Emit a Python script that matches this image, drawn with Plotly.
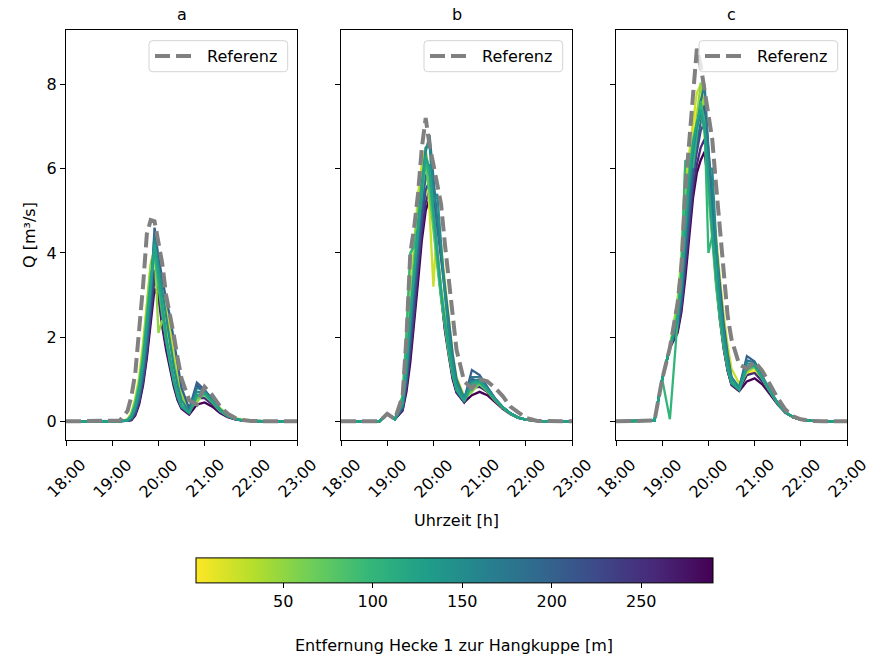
import plotly.graph_objects as go
from plotly.colors import sample_colorscale

# Zeitschritte der Abflussganglinien (gemeinsam für alle Szenarien)
zeit = ["18:00", "18:50", "19:00", "19:10", "19:20", "19:25", "19:30", "19:35", "19:40", "19:45",
        "19:50", "19:55", "20:00", "20:05", "20:10", "20:15", "20:20", "20:25", "20:30", "20:40",
        "20:50", "21:00", "21:10", "21:20", "21:30", "21:40", "21:50", "22:00", "22:15", "22:30",
        "23:00"]

# Entfernung Hecke 1 zur Hangkuppe [m] je Variante
entfernung = [1.2, 25, 50, 75, 100, 125, 150, 175, 200, 225, 255, 290]
farb_min, farb_max = 1.2, 290

# Zeichenreihenfolge der Varianten (mittlere Entfernungen zuletzt)
reihenfolge = [11, 0, 10, 1, 9, 2, 8, 3, 7, 4, 6, 5]

panel_titel = ["a", "b", "c"]
stunden = ["18:00", "19:00", "20:00", "21:00", "22:00", "23:00"]
farbskala_ticks = [50, 100, 150, 200, 250]

# Referenzganglinien Q [m³/s]
ref_a = [0, 0, 0, 0.02, 0.25, 0.6, 1.15, 2.1, 3.2, 4.45, 4.78, 4.75, 4.3, 3.75, 3.0, 2.55, 2.05,
         1.5, 1.02, 0.5, 0.4, 0.82, 0.62, 0.36, 0.18, 0.08, 0.03, 0.01, 0, 0, 0]
ref_b = [0, 0, 0.18, 0.05, 0.6, 2.0, 4.0, 4.6, 5.4, 6.5, 7.2, 6.55, 6.1, 5.6, 5.15, 4.2, 3.3,
         2.4, 1.7, 0.95, 0.78, 1.0, 0.95, 0.8, 0.6, 0.35, 0.2, 0.08, 0.01, 0, 0]
ref_c = [0, 0.02, 1.0, 1.75, 2.8, 3.7, 5.5, 6.6, 7.5, 8.85, 8.45, 7.85, 7.3, 6.7, 5.6, 4.5, 3.4,
         2.5, 1.95, 1.35, 1.25, 1.42, 1.2, 0.88, 0.55, 0.28, 0.12, 0.05, 0.01, 0, 0]

# Varianten Szenario a (eine Zeile je Entfernung)
q_a = [
    [0, 0, 0, 0, 0.05, 0.2, 0.55, 1.05, 1.85, 2.8, 3.7, 3.95, 3.35, 2.8, 2.3, 1.8, 1.3, 0.85, 0.52, 0.3, 0.5, 0.68, 0.5, 0.28, 0.14, 0.07, 0.03, 0.01, 0, 0, 0],
    [0, 0, 0, 0, 0.05, 0.2, 0.52, 1.0, 1.8, 2.75, 3.75, 4.1, 3.8, 3.3, 2.7, 2.1, 1.6, 1.1, 0.7, 0.32, 0.48, 0.7, 0.52, 0.3, 0.15, 0.07, 0.03, 0.01, 0, 0, 0],
    [0, 0, 0, 0, 0.04, 0.18, 0.5, 0.95, 1.7, 2.7, 3.7, 4.15, 2.1, 2.4, 2.3, 1.9, 1.4, 0.95, 0.6, 0.3, 0.45, 0.72, 0.55, 0.32, 0.16, 0.08, 0.03, 0.01, 0, 0, 0],
    [0, 0, 0, 0, 0.04, 0.16, 0.45, 0.9, 1.6, 2.55, 3.5, 3.9, 3.2, 2.55, 1.95, 1.45, 1.0, 0.65, 0.4, 0.22, 0.55, 0.62, 0.45, 0.25, 0.12, 0.06, 0.02, 0.01, 0, 0, 0],
    [0, 0, 0, 0, 0.03, 0.14, 0.4, 0.85, 1.5, 2.4, 3.4, 4.0, 3.3, 2.55, 1.95, 1.4, 0.95, 0.6, 0.36, 0.2, 0.6, 0.65, 0.47, 0.26, 0.13, 0.06, 0.02, 0.01, 0, 0, 0],
    [0, 0, 0, 0, 0.03, 0.12, 0.36, 0.78, 1.4, 2.3, 3.3, 4.2, 3.5, 2.7, 2.05, 1.5, 1.0, 0.62, 0.36, 0.2, 0.62, 0.68, 0.48, 0.27, 0.13, 0.06, 0.02, 0.01, 0, 0, 0],
    [0, 0, 0, 0, 0.02, 0.1, 0.32, 0.7, 1.3, 2.15, 3.15, 4.3, 3.7, 3.0, 2.4, 1.85, 1.3, 0.85, 0.5, 0.24, 0.7, 0.7, 0.5, 0.28, 0.14, 0.06, 0.02, 0.01, 0, 0, 0],
    [0, 0, 0, 0, 0.02, 0.08, 0.28, 0.62, 1.2, 2.0, 3.0, 4.45, 3.6, 2.7, 2.0, 1.5, 1.0, 0.62, 0.36, 0.25, 0.8, 0.72, 0.5, 0.28, 0.14, 0.06, 0.02, 0.01, 0, 0, 0],
    [0, 0, 0, 0, 0.01, 0.07, 0.25, 0.56, 1.1, 1.85, 2.9, 4.6, 3.9, 3.4, 2.9, 2.5, 1.9, 1.3, 0.8, 0.3, 0.92, 0.75, 0.5, 0.28, 0.14, 0.06, 0.02, 0.01, 0, 0, 0],
    [0, 0, 0, 0, 0.01, 0.05, 0.2, 0.5, 1.0, 1.7, 2.7, 3.6, 3.3, 2.5, 1.9, 1.4, 0.92, 0.56, 0.33, 0.22, 0.85, 0.7, 0.48, 0.26, 0.13, 0.06, 0.02, 0.01, 0, 0, 0],
    [0, 0, 0, 0, 0.01, 0.04, 0.17, 0.45, 0.92, 1.6, 2.5, 3.4, 3.1, 2.35, 1.8, 1.3, 0.88, 0.52, 0.31, 0.18, 0.55, 0.55, 0.4, 0.22, 0.11, 0.05, 0.02, 0.01, 0, 0, 0],
    [0, 0, 0, 0, 0.01, 0.03, 0.14, 0.4, 0.85, 1.5, 2.4, 3.15, 2.95, 2.25, 1.7, 1.25, 0.82, 0.5, 0.3, 0.16, 0.4, 0.45, 0.35, 0.2, 0.1, 0.05, 0.02, 0.01, 0, 0, 0],
]

# Varianten Szenario b
q_b = [
    [0, 0, 0.18, 0.05, 0.55, 1.6, 3.0, 4.2, 5.2, 5.9, 6.3, 5.5, 4.6, 3.8, 3.1, 2.4, 1.75, 1.2, 0.8, 0.55, 0.75, 0.85, 0.7, 0.5, 0.32, 0.18, 0.09, 0.04, 0.01, 0, 0],
    [0, 0, 0.18, 0.05, 0.5, 1.5, 2.9, 4.2, 5.4, 6.1, 6.5, 5.0, 3.2, 4.8, 4.2, 3.3, 2.4, 1.6, 1.05, 0.6, 0.8, 0.9, 0.75, 0.52, 0.33, 0.19, 0.09, 0.04, 0.01, 0, 0],
    [0, 0, 0.18, 0.05, 0.6, 2.0, 3.9, 4.3, 5.0, 5.8, 6.4, 5.9, 4.9, 4.0, 3.2, 2.5, 1.85, 1.3, 0.85, 0.55, 0.7, 0.9, 0.75, 0.52, 0.33, 0.19, 0.09, 0.04, 0.01, 0, 0],
    [0, 0, 0.18, 0.05, 0.45, 1.4, 2.7, 3.9, 5.0, 5.7, 6.1, 5.4, 4.5, 3.7, 2.9, 2.2, 1.6, 1.1, 0.75, 0.5, 0.78, 0.88, 0.72, 0.5, 0.32, 0.18, 0.09, 0.04, 0.01, 0, 0],
    [0, 0, 0.18, 0.05, 0.6, 2.1, 4.0, 4.15, 4.6, 5.4, 6.2, 5.8, 4.8, 3.9, 3.0, 2.3, 1.7, 1.15, 0.78, 0.5, 0.85, 0.92, 0.75, 0.52, 0.33, 0.19, 0.09, 0.04, 0.01, 0, 0],
    [0, 0, 0.18, 0.05, 0.42, 1.3, 2.5, 3.6, 4.7, 5.6, 6.3, 6.0, 5.0, 4.0, 3.1, 2.35, 1.7, 1.15, 0.75, 0.48, 0.9, 0.95, 0.75, 0.52, 0.33, 0.19, 0.09, 0.04, 0.01, 0, 0],
    [0, 0, 0.18, 0.05, 0.4, 1.2, 2.4, 3.5, 4.6, 5.6, 6.5, 6.6, 5.2, 5.4, 4.2, 3.0, 2.1, 1.4, 0.9, 0.55, 0.95, 1.0, 0.78, 0.53, 0.33, 0.19, 0.09, 0.04, 0.01, 0, 0],
    [0, 0, 0.18, 0.05, 0.38, 1.1, 2.2, 3.3, 4.4, 5.4, 6.4, 6.8, 5.8, 4.8, 4.0, 3.2, 2.4, 1.6, 1.0, 0.55, 1.05, 1.05, 0.8, 0.54, 0.34, 0.19, 0.09, 0.04, 0.01, 0, 0],
    [0, 0, 0.18, 0.05, 0.35, 1.0, 2.0, 3.1, 4.2, 5.1, 5.8, 6.1, 5.4, 4.6, 3.8, 3.0, 2.2, 1.5, 0.95, 0.52, 1.22, 1.1, 0.82, 0.55, 0.34, 0.19, 0.09, 0.04, 0.01, 0, 0],
    [0, 0, 0.18, 0.05, 0.3, 0.9, 1.8, 2.8, 3.9, 4.8, 5.5, 5.7, 5.0, 4.0, 3.1, 2.3, 1.65, 1.1, 0.72, 0.46, 1.0, 0.95, 0.75, 0.52, 0.33, 0.19, 0.09, 0.04, 0.01, 0, 0],
    [0, 0, 0.18, 0.05, 0.28, 0.8, 1.6, 2.5, 3.6, 4.5, 5.2, 5.5, 4.9, 3.9, 3.0, 2.2, 1.6, 1.05, 0.7, 0.45, 0.8, 0.82, 0.7, 0.5, 0.32, 0.18, 0.09, 0.04, 0.01, 0, 0],
    [0, 0, 0.18, 0.05, 0.25, 0.7, 1.4, 2.3, 3.3, 4.3, 5.0, 5.3, 4.8, 3.8, 2.9, 2.15, 1.55, 1.0, 0.68, 0.45, 0.62, 0.7, 0.62, 0.46, 0.3, 0.17, 0.08, 0.04, 0.01, 0, 0],
]

# Varianten Szenario c
q_c = [
    [0, 0.02, 1.0, 1.75, 2.7, 3.6, 5.2, 6.2, 6.8, 7.4, 7.7, 6.8, 5.6, 4.4, 3.4, 2.5, 1.8, 1.3, 0.95, 0.8, 1.1, 1.2, 0.98, 0.7, 0.42, 0.22, 0.1, 0.04, 0.01, 0, 0],
    [0, 0.02, 1.0, 1.75, 2.8, 3.8, 5.6, 6.4, 7.1, 7.8, 8.0, 7.0, 5.8, 5.2, 4.4, 3.4, 2.5, 1.8, 1.25, 0.9, 1.15, 1.28, 1.02, 0.72, 0.43, 0.22, 0.1, 0.04, 0.01, 0, 0],
    [0, 0.02, 1.0, 1.75, 2.9, 3.9, 6.1, 6.3, 6.1, 7.2, 8.05, 7.4, 6.0, 4.6, 3.5, 2.6, 1.9, 1.35, 0.98, 0.82, 1.2, 1.3, 1.02, 0.72, 0.43, 0.22, 0.1, 0.04, 0.01, 0, 0],
    [0, 0.02, 1.0, 1.75, 2.6, 3.5, 5.0, 6.0, 6.7, 7.1, 7.3, 6.9, 5.4, 4.2, 3.2, 2.4, 1.75, 1.25, 0.92, 0.78, 1.22, 1.3, 1.02, 0.72, 0.43, 0.22, 0.1, 0.04, 0.01, 0, 0],
    [0, 0.02, 1.0, 0.05, 2.4, 3.6, 6.2, 6.1, 6.05, 6.8, 7.6, 7.1, 4.0, 4.4, 3.6, 2.7, 1.95, 1.35, 0.95, 0.75, 1.25, 1.32, 1.02, 0.72, 0.43, 0.22, 0.1, 0.04, 0.01, 0, 0],
    [0, 0.02, 1.0, 1.75, 2.5, 3.3, 4.7, 5.8, 6.6, 7.1, 7.4, 7.0, 5.7, 4.5, 3.4, 2.5, 1.8, 1.25, 0.9, 0.75, 1.3, 1.33, 1.03, 0.72, 0.43, 0.22, 0.1, 0.04, 0.01, 0, 0],
    [0, 0.02, 1.0, 1.75, 2.45, 3.2, 4.5, 5.6, 6.4, 7.0, 7.3, 7.0, 6.0, 6.0, 4.3, 2.9, 2.1, 1.5, 1.05, 0.8, 1.38, 1.35, 1.04, 0.73, 0.43, 0.22, 0.1, 0.04, 0.01, 0, 0],
    [0, 0.02, 1.0, 1.75, 2.4, 3.1, 4.3, 5.4, 6.3, 7.0, 7.6, 8.0, 6.4, 5.0, 3.7, 2.7, 1.95, 1.4, 1.0, 0.8, 1.45, 1.4, 1.05, 0.73, 0.43, 0.22, 0.1, 0.04, 0.01, 0, 0],
    [0, 0.02, 1.0, 1.75, 2.3, 2.9, 4.0, 5.1, 6.0, 6.6, 7.1, 7.5, 6.5, 5.4, 4.2, 3.2, 2.3, 1.6, 1.05, 0.8, 1.55, 1.42, 1.06, 0.73, 0.43, 0.22, 0.1, 0.04, 0.01, 0, 0],
    [0, 0.02, 1.0, 1.75, 2.2, 2.8, 3.8, 4.9, 5.8, 6.4, 6.9, 7.1, 6.0, 4.7, 3.5, 2.5, 1.8, 1.25, 0.9, 0.75, 1.3, 1.3, 1.02, 0.72, 0.43, 0.22, 0.1, 0.04, 0.01, 0, 0],
    [0, 0.02, 1.0, 1.75, 2.15, 2.7, 3.6, 4.6, 5.5, 6.1, 6.5, 6.7, 5.8, 4.6, 3.4, 2.45, 1.75, 1.2, 0.88, 0.74, 1.1, 1.15, 0.95, 0.68, 0.41, 0.21, 0.1, 0.04, 0.01, 0, 0],
    [0, 0.02, 1.0, 1.75, 2.1, 2.6, 3.4, 4.4, 5.3, 5.9, 6.2, 6.4, 5.6, 4.5, 3.3, 2.4, 1.7, 1.2, 0.86, 0.72, 0.95, 1.02, 0.88, 0.64, 0.4, 0.2, 0.1, 0.04, 0.01, 0, 0],
]

for name, reihe in [("ref_a", ref_a), ("ref_b", ref_b), ("ref_c", ref_c)] + \
        [(f"q_{p}[{i}]", r) for p, q in zip("abc", (q_a, q_b, q_c)) for i, r in enumerate(q)]:
    if len(reihe) != len(zeit):
        raise ValueError(f"{name}: {len(reihe)} Werte statt {len(zeit)}")

TAG = "2000-01-01 "
x_zeit = [TAG + t for t in zeit]

W, H = 870, 657
FONT = "DejaVu Sans"
FS = 16
GRAU = "#808080"


def px(x):
    return x / W


def py(y):
    return 1 - y / H


def farbe(d):
    anteil = (d - farb_min) / (farb_max - farb_min)
    return sample_colorscale("Viridis", [1 - anteil])[0]


panel_links = [66, 341, 616]
panel_breite = 231
y_oben, y_unten = 30, 440
y_bereich = [-0.4425, 9.2925]

fig = go.Figure()

referenzen = [ref_a, ref_b, ref_c]
varianten = [q_a, q_b, q_c]

for k in range(3):
    xa = "x" if k == 0 else f"x{k + 1}"
    ya = "y" if k == 0 else f"y{k + 1}"
    for i in reihenfolge:
        fig.add_trace(go.Scatter(
            x=x_zeit, y=varianten[k][i], mode="lines", xaxis=xa, yaxis=ya,
            line=dict(color=farbe(entfernung[i]), width=2.3), showlegend=False,
            hoverinfo="skip"))
    fig.add_trace(go.Scatter(
        x=x_zeit, y=referenzen[k], mode="lines", xaxis=xa, yaxis=ya, name="Referenz",
        line=dict(color=GRAU, width=4, dash="15px,6px"), showlegend=False))

# Farbskala (Entfernung)
fig.add_trace(go.Scatter(
    x=[None], y=[None], mode="markers", showlegend=False, hoverinfo="skip",
    marker=dict(
        color=[farb_min, farb_max], colorscale="Viridis", reversescale=True,
        cmin=farb_min, cmax=farb_max, showscale=True,
        colorbar=dict(
            orientation="h", x=px((196 + 712.7) / 2), xanchor="center",
            y=py(585), yanchor="middle", len=516.7 / W, lenmode="fraction",
            thickness=25, thicknessmode="pixels", xpad=0, ypad=0,
            outlinewidth=1, outlinecolor="black",
            tickvals=farbskala_ticks, ticks="outside", ticklen=5, tickwidth=1,
            tickcolor="black", tickfont=dict(family=FONT, size=FS, color="black"),
        ),
    ),
))

layout = dict(
    width=W, height=H, margin=dict(l=0, r=0, t=0, b=0),
    paper_bgcolor="white", plot_bgcolor="white",
    font=dict(family=FONT, size=FS, color="black"),
    showlegend=False,
)

annotationen = []
formen = []
for k in range(3):
    links = panel_links[k]
    rechts = links + panel_breite
    sx = "xaxis" if k == 0 else f"xaxis{k + 1}"
    sy = "yaxis" if k == 0 else f"yaxis{k + 1}"
    xref = "x" if k == 0 else f"x{k + 1}"
    layout[sx] = dict(
        domain=[px(links), px(rechts)], anchor="y" if k == 0 else f"y{k + 1}",
        type="date", range=[TAG + "18:00", TAG + "23:00"],
        tickvals=[TAG + s for s in stunden], showticklabels=False,
        ticks="outside", ticklen=5, tickwidth=1, tickcolor="black",
        showline=True, linecolor="black", linewidth=1, mirror=True,
        showgrid=False, zeroline=False, fixedrange=True,
    )
    layout[sy] = dict(
        domain=[py(y_unten), py(y_oben)], anchor=xref,
        range=y_bereich, tickvals=[0, 2, 4, 6, 8], showticklabels=(k == 0),
        ticks="outside", ticklen=5, tickwidth=1, tickcolor="black",
        tickfont=dict(family=FONT, size=FS, color="black"),
        showline=True, linecolor="black", linewidth=1, mirror=True,
        showgrid=False, zeroline=False, fixedrange=True,
    )
    # Titel des Teilbilds
    annotationen.append(dict(
        text=panel_titel[k], x=px((links + rechts) / 2), y=py(15), xref="paper", yref="paper",
        showarrow=False, xanchor="center", yanchor="middle", font=dict(size=FS)))
    # gedrehte Zeitbeschriftungen
    for s in stunden:
        annotationen.append(dict(
            text=s, x=TAG + s, y=py(478), xref=xref, yref="paper", showarrow=False,
            textangle=-45, xanchor="center", yanchor="middle", font=dict(size=FS)))
    # Legende "Referenz"
    bx0, bx1, by0, by1, r = links + 83, links + 221.7, 40.7, 71.7, 3.5
    pfad = (f"M {px(bx0 + r)},{py(by0)} L {px(bx1 - r)},{py(by0)} "
            f"Q {px(bx1)},{py(by0)} {px(bx1)},{py(by0 + r)} L {px(bx1)},{py(by1 - r)} "
            f"Q {px(bx1)},{py(by1)} {px(bx1 - r)},{py(by1)} L {px(bx0 + r)},{py(by1)} "
            f"Q {px(bx0)},{py(by1)} {px(bx0)},{py(by1 - r)} L {px(bx0)},{py(by0 + r)} "
            f"Q {px(bx0)},{py(by0)} {px(bx0 + r)},{py(by0)} Z")
    formen.append(dict(type="path", path=pfad, xref="paper", yref="paper",
                       fillcolor="rgba(255,255,255,0.8)", line=dict(color="#d3d3d3", width=1)))
    formen.append(dict(type="line", xref="paper", yref="paper",
                       x0=px(links + 89), x1=px(links + 125), y0=py(56), y1=py(56),
                       line=dict(color=GRAU, width=4, dash="15px,6px")))
    annotationen.append(dict(
        text="Referenz", x=px(links + 139), y=py(56), xref="paper", yref="paper",
        showarrow=False, xanchor="left", yanchor="middle", font=dict(size=FS)))

annotationen.append(dict(
    text="Q [m³/s]", x=px(30), y=py((y_oben + y_unten) / 2), xref="paper", yref="paper",
    showarrow=False, textangle=-90, xanchor="center", yanchor="middle", font=dict(size=FS)))
annotationen.append(dict(
    text="Uhrzeit [h]", x=px(456.5), y=py(520), xref="paper", yref="paper",
    showarrow=False, xanchor="center", yanchor="middle", font=dict(size=FS)))
annotationen.append(dict(
    text="Entfernung Hecke 1 zur Hangkuppe [m]", x=px(454), y=py(645), xref="paper",
    yref="paper", showarrow=False, xanchor="center", yanchor="middle", font=dict(size=FS)))

layout["annotations"] = annotationen
layout["shapes"] = formen
fig.update_layout(**layout)

fig.write_html("out.html")
